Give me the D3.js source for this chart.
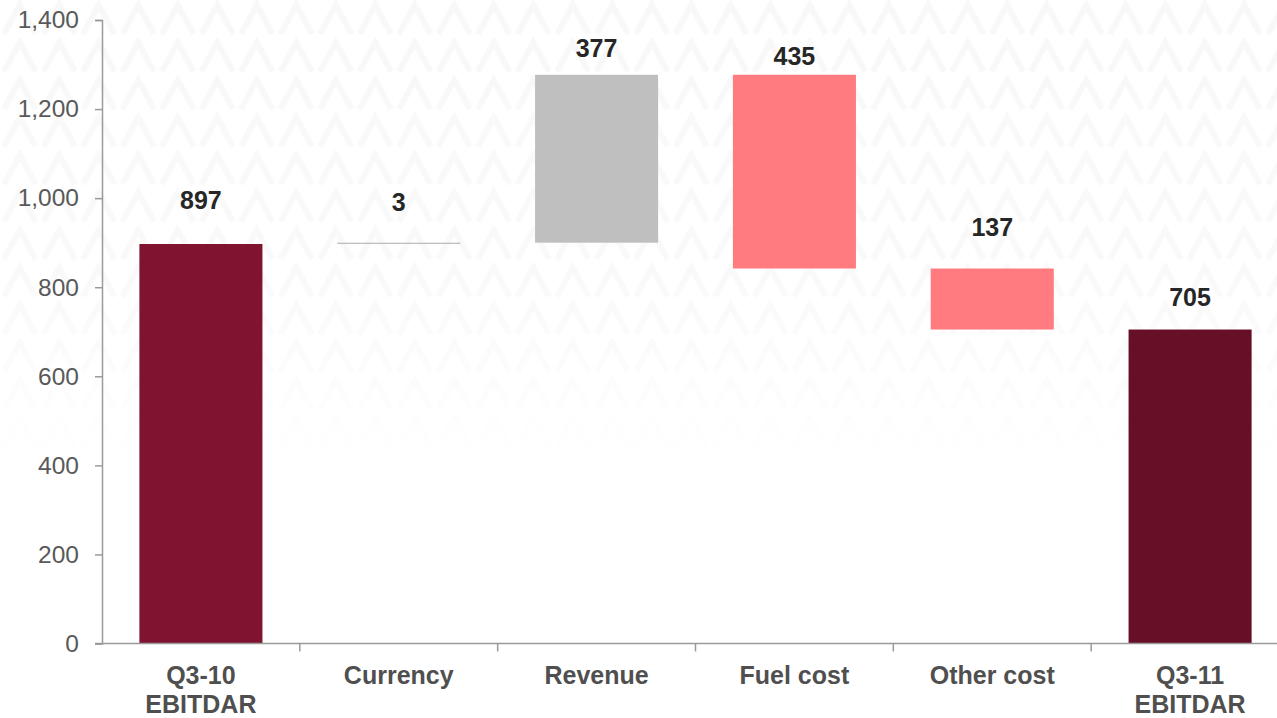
<!DOCTYPE html>
<html>
<head>
<meta charset="utf-8">
<script src="https://cdn.jsdelivr.net/npm/d3@7"></script>
<style>
  html, body { margin: 0; padding: 0; background: #fff; overflow: hidden; }
  svg { display: block; font-family: "Liberation Sans", Arial, sans-serif; }
</style>
</head>
<body>
<div id="chart"></div>
<script>
// EBITDAR bridge Q3-10 -> Q3-11
const categories = [["Q3-10", "EBITDAR"], ["Currency"], ["Revenue"], ["Fuel cost"], ["Other cost"], ["Q3-11", "EBITDAR"]];
const values = [897, 3, 377, -435, -137, 705];
const kinds = ["total", "delta", "delta", "delta", "delta", "total"];
const yTicks = [0, 200, 400, 600, 800, 1000, 1200, 1400];

const width = 1277, height = 718;
const margin = { top: 20, left: 102, bottom: 74.5, right: -12 };

// label gap above each bar top, px
const labelGap = [44, 41, 27, 19, 42, 33];

const colors = { first: "#80132f", last: "#660f27", up: "#bfbfbf", down: "#ff7b80" };

// build the waterfall steps
let running = 0;
const steps = values.map((v, i) => {
  let lo, hi;
  if (kinds[i] === "total") { lo = 0; hi = v; running = v; }
  else { lo = Math.min(running, running + v); hi = Math.max(running, running + v); running += v; }
  let fill = v >= 0 ? colors.up : colors.down;
  if (kinds[i] === "total") fill = i === 0 ? colors.first : colors.last;
  return { i, v, lo, hi, fill, label: categories[i] };
});

const svg = d3.select("#chart").append("svg")
  .attr("width", width).attr("height", height);

// faint chevron watermark in the background
const defs = svg.append("defs");
const pat = defs.append("pattern")
  .attr("id", "chev").attr("patternUnits", "userSpaceOnUse")
  .attr("width", 39.5).attr("height", 37.5);
pat.append("path")
  .attr("d", "M4,34 L19.75,5 L35.5,34")
  .attr("fill", "none").attr("stroke", "#f8f8f8").attr("stroke-width", 6);
const grad = defs.append("linearGradient").attr("id", "fade")
  .attr("x1", 0).attr("y1", 0).attr("x2", 0).attr("y2", 1);
grad.append("stop").attr("offset", "0%").attr("stop-color", "#fff").attr("stop-opacity", 1);
grad.append("stop").attr("offset", "60%").attr("stop-color", "#fff").attr("stop-opacity", 0.8);
grad.append("stop").attr("offset", "100%").attr("stop-color", "#fff").attr("stop-opacity", 0);
const mask = defs.append("mask").attr("id", "fadeMask");
mask.append("rect").attr("x", 0).attr("y", 0).attr("width", width).attr("height", 470).attr("fill", "url(#fade)");
svg.append("rect")
  .attr("x", 0).attr("y", -4).attr("width", width).attr("height", 470)
  .attr("fill", "url(#chev)").attr("mask", "url(#fadeMask)");

const x = d3.scaleBand()
  .domain(d3.range(categories.length))
  .range([margin.left, width - margin.right])
  .paddingInner(0.378)
  .paddingOuter(0.189);

const y = d3.scaleLinear()
  .domain([0, 1400])
  .range([height - margin.bottom, margin.top]);

// bars
svg.append("g")
  .selectAll("rect")
  .data(steps)
  .join("rect")
  .attr("x", d => x(d.i))
  .attr("width", x.bandwidth())
  .attr("y", d => y(d.hi))
  .attr("height", d => Math.max(1, y(d.lo) - y(d.hi)))
  .attr("fill", d => d.fill);

// value labels
svg.append("g")
  .selectAll("text")
  .data(steps)
  .join("text")
  .attr("x", d => x(d.i) + x.bandwidth() / 2)
  .attr("y", d => y(d.hi) - labelGap[d.i])
  .attr("text-anchor", "middle")
  .attr("dominant-baseline", "central")
  .attr("font-size", 25)
  .attr("font-weight", "bold")
  .attr("fill", "#262626")
  .text(d => Math.abs(d.v));

// y axis
const yAxis = svg.append("g")
  .attr("transform", `translate(${margin.left},0)`)
  .call(d3.axisLeft(y).tickValues(yTicks).tickFormat(d3.format(",")).tickSize(7).tickPadding(16));
yAxis.select(".domain").attr("stroke", "#9a9a9a").attr("stroke-width", 1.5);
yAxis.selectAll(".tick line").attr("stroke", "#9a9a9a").attr("stroke-width", 1.5);
yAxis.selectAll(".tick text")
  .attr("font-size", 24.5).attr("fill", "#595959")
  .attr("font-family", "'Liberation Sans', Arial, sans-serif");

// x axis line + boundary ticks
const step = x.step();
const xAxis = svg.append("g");
xAxis.append("line")
  .attr("x1", margin.left - 7).attr("x2", width + 20)
  .attr("y1", y(0)).attr("y2", y(0))
  .attr("stroke", "#9a9a9a").attr("stroke-width", 1.5);
xAxis.selectAll("line.tk")
  .data(d3.range(1, categories.length + 1))
  .join("line")
  .attr("class", "tk")
  .attr("x1", i => x(0) - step * 0.189 + i * step)
  .attr("x2", i => x(0) - step * 0.189 + i * step)
  .attr("y1", y(0)).attr("y2", y(0) + 8)
  .attr("stroke", "#9a9a9a").attr("stroke-width", 1.5);

// category labels
const catLabels = xAxis.selectAll("text.cat")
  .data(steps)
  .join("text")
  .attr("class", "cat")
  .attr("text-anchor", "middle")
  .attr("font-size", 25)
  .attr("font-weight", "bold")
  .attr("fill", "#4f4f4f");
catLabels.selectAll("tspan")
  .data(d => d.label.map(t => ({ t, cx: x(d.i) + x.bandwidth() / 2 })))
  .join("tspan")
  .attr("x", d => d.cx)
  .attr("y", (d, k) => y(0) + 40 + k * 29)
  .text(d => d.t);
</script>
</body>
</html>
